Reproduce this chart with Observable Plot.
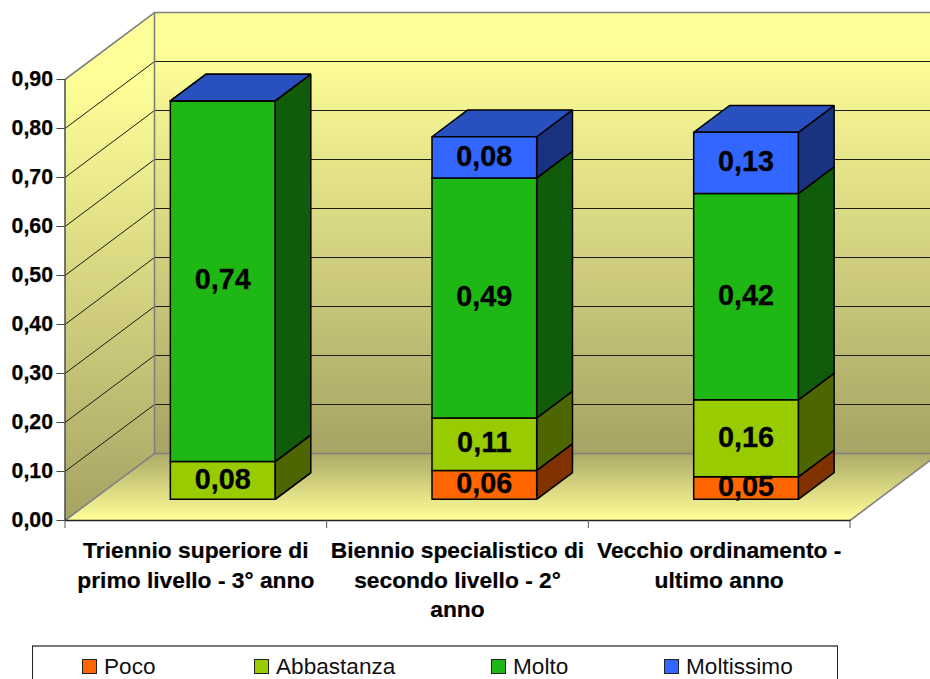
<!DOCTYPE html>
<html>
<head>
<meta charset="utf-8">
<script src="https://cdn.jsdelivr.net/npm/d3@7"></script>
<script src="https://cdn.jsdelivr.net/npm/@observablehq/plot@0.6"></script>
<style>
html,body{margin:0;padding:0;background:#fff;overflow:hidden;width:930px;height:679px;font-family:"Liberation Sans",Arial,sans-serif;}
#chart{position:absolute;left:0;top:0;}
#legend{position:absolute;left:32px;top:645px;width:806px;height:60px;border:1px solid #222;border-top:2px solid #777;box-sizing:border-box;}
.item{position:absolute;top:6px;font-size:22.6px;line-height:28px;white-space:nowrap;color:#111;}
.sw{position:absolute;top:6px;left:-22px;border:1.5px solid #222;box-sizing:border-box;width:15px;height:15px;}
</style>
</head>
<body>
<div id="chart"></div>
<div id="legend"></div>
<script>
const categories = ["Triennio superiore di\nprimo livello - 3° anno", "Biennio specialistico di\nsecondo livello - 2°\nanno", "Vecchio ordinamento -\nultimo anno"];
const seriesNames = ["Poco", "Abbastanza", "Molto", "Moltissimo"];
const poco       = [0,     0.059, 0.046];
const abbastanza = [0.077, 0.107, 0.157];
const molto      = [0.736, 0.490, 0.421];
const moltissimo = [0,     0.084, 0.125];
const frontColors = ["#FF6600", "#99CC00", "#1FB714", "#3366FF"];
const sideColors  = ["#803300", "#4D6600", "#105C0A", "#1A3380"];
const topColors   = ["#BF4D00", "#739900", "#178A0F", "#2850BF"];
const yTicks = [0, 0.1, 0.2, 0.3, 0.4, 0.5, 0.6, 0.7, 0.8, 0.9];
const legendLefts = [71, 243, 480, 653];

const series = [poco, abbastanza, molto, moltissimo];
const fmt = v => v.toFixed(2).replace(".", ",");

// oblique projection of (category position, value, depth) on the two plot scales
const depthX = 0.342, depthY = 0.1367;
const px = (c, z) => c + z * depthX;
const py = (v, z) => v + z * depthY;
const poly = (id, fill, pts) => [...pts, pts[0]].map(([c, v, z]) => ({id, fill, x: px(c, z), y: py(v, z)}));

const n = categories.length, vMax = 0.9;
const leftWall = poly("left", "url(#wall)", [[0,0,0],[0,vMax,0],[0,vMax,1],[0,0,1]]);
const backWall = poly("back", "url(#wall2)", [[0,0,1],[0,vMax,1],[n,vMax,1],[n,0,1]]);
const floor    = poly("floor", "url(#floor)", [[0,0,0],[n,0,0],[n,0,1],[0,0,1]]);

const grid = yTicks.slice(1, -1).flatMap(v => [[0,v,0],[0,v,1],[n,v,1]].map(([c, vv, z]) => ({id: v, x: px(c, z), y: py(vv, z)})));
const wallEdges = [
  [[0,vMax,0],[0,vMax,1],[n,vMax,1]],
  [[0,vMax,1],[0,0,1],[n,0,1]],
  [[0,0,0],[0,0,1]],
  [[n,0,0],[n,0,1]]
].flatMap((e, i) => e.map(([c, v, z]) => ({id: i, x: px(c, z), y: py(v, z)})));
const frontEdge = [[0,0],[n,0]].map(([x, y]) => ({x, y}));

const barW = 0.2, z0 = 0.3, z1 = 0.7, lift = 0.0022;
const faces = [], labels = [];
categories.forEach((cat, i) => {
  let base = lift;
  const l = i + 0.5 - barW, r = i + 0.5 + barW;
  series.forEach((s, k) => {
    const t = base + s[i];
    faces.push(...poly(`s${i}${k}`, sideColors[k], [[r,base,z0],[r,t,z0],[r,t,z1],[r,base,z1]]));
    faces.push(...poly(`t${i}${k}`, topColors[k], [[l,t,z0],[r,t,z0],[r,t,z1],[l,t,z1]]));
    faces.push(...poly(`f${i}${k}`, frontColors[k], [[l,base,z0],[r,base,z0],[r,t,z0],[l,t,z0]]));
    if (s[i] > 0) labels.push({x: px(i + 0.5, z0), y: py((base + t) / 2, z0), text: fmt(s[i])});
    base = t;
  });
});

const defs = () => {
  const svg = d3.create("svg:g");
  const d = svg.append("defs");
  const grad = (id, stops) => {
    const g = d.append("linearGradient").attr("id", id).attr("x1", 0).attr("x2", 0).attr("y1", 0).attr("y2", 1);
    stops.forEach(([o, c]) => g.append("stop").attr("offset", o).attr("stop-color", c));
  };
  grad("wall",  [[0, "#FFFF99"], [0.13, "#FFFF99"], [1, "#A6A364"]]);
  grad("wall2", [[0, "#FFFF99"], [0.08, "#FFFF99"], [1, "#A6A364"]]);
  grad("floor", [[0, "#ADAA68"], [1, "#FFFF99"]]);
  return svg.node();
};

const plot = Plot.plot({
  width: 930, height: 645,
  marginLeft: 64.5, marginRight: 80.5, marginTop: 79, marginBottom: 125,
  style: {fontFamily: "'Liberation Sans',Arial,sans-serif", background: "transparent", color: "#000"},
  x: {type: "linear", domain: [0, n], axis: null},
  y: {domain: [0, vMax], axis: null},
  color: {type: "identity"},
  marks: [
    defs,
    Plot.line(leftWall, {x: "x", y: "y", z: "id", fill: "url(#wall)", stroke: "none"}),
    Plot.line(backWall, {x: "x", y: "y", z: "id", fill: "url(#wall2)", stroke: "none"}),
    Plot.line(floor, {x: "x", y: "y", z: "id", fill: "url(#floor)", stroke: "none"}),
    Plot.line(grid, {x: "x", y: "y", z: "id", stroke: "#1c1c10", strokeWidth: 1}),
    Plot.line(wallEdges, {x: "x", y: "y", z: "id", stroke: "#808080", strokeWidth: 1.6}),
    Plot.line(faces, {x: "x", y: "y", z: "id", fill: "fill", stroke: "#000", strokeWidth: 1.5, strokeLinejoin: "miter"}),
    Plot.ruleX([0], {y1: 0, y2: vMax, stroke: "#555", strokeWidth: 1.6}),
    Plot.line(frontEdge, {x: "x", y: "y", stroke: "#222", strokeWidth: 1.3}),
    Plot.axisY({ticks: yTicks, tickSize: 8, tickPadding: 4, tickFormat: fmt, fontSize: 21.3, fontWeight: "bold", stroke: "#444", textStroke: "#000", textStrokeWidth: 0.25, label: null}),
    Plot.axisX({ticks: d3.range(n + 1), tickSize: 8, tickFormat: () => "", stroke: "#555", label: null}),
    Plot.text(labels, {x: "x", y: "y", text: "text", dy: -1, fontSize: 28.8, fontWeight: "bold", fill: "#000", stroke: "#000", strokeWidth: 0.3}),
    Plot.text(categories, {x: (d, i) => i + 0.5, y: 0, text: d => d, dy: 16, lineAnchor: "top", lineHeight: 1.31, fontSize: 22.8, fontWeight: "bold", fill: "#000", stroke: "#000", strokeWidth: 0.2})
  ]
});
document.getElementById("chart").append(plot);

const legend = document.getElementById("legend");
seriesNames.forEach((name, k) => {
  const it = document.createElement("div");
  it.className = "item";
  it.style.left = legendLefts[k] + "px";
  it.textContent = name;
  const sw = document.createElement("span");
  sw.className = "sw";
  sw.style.background = frontColors[k];
  it.append(sw);
  legend.append(it);
});
</script>
</body>
</html>
